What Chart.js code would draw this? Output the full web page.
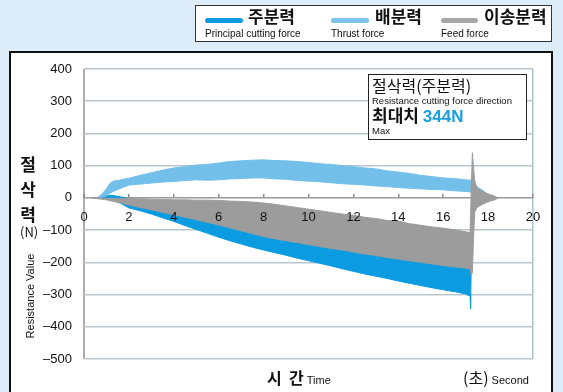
<!DOCTYPE html>
<html>
<head>
<meta charset="utf-8">
<script src="https://cdn.jsdelivr.net/npm/chart.js@4.4.1/dist/chart.umd.min.js"></script>
<style>
  body { margin: 0; width: 563px; height: 392px; overflow: hidden; background: #dcedf9;
         font-family: "Liberation Sans", "Noto Sans CJK KR", sans-serif; color: #111; }
  .abs { position: absolute; white-space: nowrap; }
  #panel { position: absolute; left: 9px; top: 51px; width: 540px; height: 360px;
           border: 2px solid #111; background: #fff; }
  #wrap { position: absolute; left: 0; top: 0; width: 563px; height: 392px; }
  #legend { position: absolute; left: 195px; top: 5px; width: 355px; height: 35px;
            border: 1.5px solid #333; background: #fff; }
  .sw { position: absolute; height: 5px; border-radius: 3px; }
  .kr { font-family: "Noto Sans CJK KR", sans-serif; }
  #note { position: absolute; left: 368px; top: 74px; width: 157px; height: 64px;
          border: 1px solid #222; background: #fff; }
</style>
</head>
<body>
<div id="panel"></div>
<div id="wrap"><canvas id="chart"></canvas></div>

<div id="legend"></div>
<div class="sw abs" style="left:205px;top:18px;width:38px;background:#0a9be0"></div>
<div class="abs kr" style="left:248px;top:5px;font-size:17px;font-weight:bold;line-height:22px">주분력</div>
<div class="abs" style="left:205px;top:28px;font-size:10px;line-height:12px">Principal cutting force</div>
<div class="sw abs" style="left:331px;top:18px;width:38px;background:#7cc4ec"></div>
<div class="abs kr" style="left:375px;top:5px;font-size:17px;font-weight:bold;line-height:22px">배분력</div>
<div class="abs" style="left:331px;top:28px;font-size:10px;line-height:12px">Thrust force</div>
<div class="sw abs" style="left:441px;top:18px;width:37px;background:#a6a6a6"></div>
<div class="abs kr" style="left:484px;top:5px;font-size:17px;font-weight:bold;line-height:22px">이송분력</div>
<div class="abs" style="left:441px;top:28px;font-size:10px;line-height:12px">Feed force</div>

<div id="note"></div>
<div class="abs kr" style="left:372px;top:74px;font-size:16px;line-height:22px">절삭력(주분력)</div>
<div class="abs" style="left:372px;top:95px;font-size:9.5px;line-height:12px">Resistance cutting force direction</div>
<div class="abs kr" style="left:372px;top:104px;font-size:17px;font-weight:bold;line-height:22px">최대치 <span style="color:#1aa0e2;font-family:'Liberation Sans'">344N</span></div>
<div class="abs" style="left:372px;top:125px;font-size:9.5px;line-height:12px">Max</div>

<div class="abs kr" style="left:20px;top:151px;font-size:17px;font-weight:bold;line-height:25px;width:16px;text-align:center;white-space:normal">절 삭 력</div>
<div class="abs kr" style="left:20px;top:223px;font-size:13px;line-height:18px">(N)</div>
<div class="abs" style="left:30px;top:296px;font-size:11px;line-height:12px;transform:translate(-50%,-50%) rotate(-90deg)">Resistance Value</div>

<div class="abs kr" style="left:267px;top:366px;font-size:16px;font-weight:bold;line-height:22px">시&nbsp;&nbsp;간<span style="font-family:'Liberation Sans';font-weight:normal;font-size:11px"> Time</span></div>
<div class="abs kr" style="left:463px;top:366px;font-size:16px;line-height:22px">(초)<span style="font-family:'Liberation Sans';font-size:11px"> Second</span></div>

<script>
// 이송분력 (feed force) - band top / bottom
const feedTime = [0.3, 1, 1.5, 2, 2.5, 3, 3.5, 4, 4.5, 5, 5.5, 6, 6.5, 7, 7.5, 8, 8.5, 9, 9.5, 10, 10.5, 11, 11.5, 12, 12.5, 13, 13.5, 14, 14.5, 15, 15.5, 16, 16.5, 17, 17.2, 17.25, 17.3, 17.35, 17.4, 17.5, 17.7, 17.9, 18.1, 18.3, 18.45];
const feedTop = [0, -1, -2, -2, -3, -4, -5, -6, -6, -7, -7, -8, -10, -11, -13, -16, -20, -25, -30, -35, -40, -45, -50, -54, -60, -64, -70, -72, -80, -85, -90, -94, -99, -105, -108, 30, 140, 95, 55, 30, 22, 15, 10, 5, 0];
const feedBottom = [0, -6, -14, -22, -30, -37, -45, -52, -60, -68, -76, -84, -93, -102, -111, -120, -127, -133, -139, -145, -151, -157, -162, -168, -174, -179, -185, -190, -195, -200, -205, -210, -214, -218, -220, -240, -232, -130, -45, -30, -22, -15, -10, -6, 0];

// 배분력 (thrust force)
const thrustTime = [0.58, 0.8, 1.0, 1.15, 1.3, 1.5, 2, 2.5, 3, 3.5, 4, 4.5, 5, 5.5, 6, 6.5, 7, 7.5, 8, 8.5, 9, 9.5, 10, 10.5, 11, 11.5, 12, 12.5, 13, 13.5, 14, 14.5, 15, 15.5, 16, 16.5, 17, 17.25, 17.4, 17.6, 17.8, 18.0, 18.1];
const thrustTop = [0, 12, 28, 45, 52, 54, 61, 70, 78, 86, 93, 97, 102, 104, 108, 113, 115, 117, 118, 116, 115, 113, 110, 106, 104, 100, 97, 93, 90, 84, 80, 76, 70, 66, 62, 60, 56, 55, 40, 30, 22, 8, 0];
const thrustBottom = [0, 2, 8, 14, 20, 26, 40, 43, 46, 49, 51, 54, 56, 55, 56, 59, 60, 62, 62, 59, 58, 54, 52, 50, 47, 44, 42, 40, 37, 35, 32, 30, 28, 26, 25, 22, 20, 18, 12, 5, 2, -3, 0];

// 주분력 (principal cutting force)
const principalTime = [0.8, 1.0, 1.2, 1.5, 2, 2.5, 3, 3.5, 4, 4.5, 5, 5.5, 6, 6.5, 7, 7.5, 8, 8.5, 9, 9.5, 10, 10.5, 11, 11.5, 12, 12.5, 13, 13.5, 14, 14.5, 15, 15.5, 16, 16.5, 17, 17.2, 17.22, 17.25];
const principalTop = [0, 6, 8, 5, -2, -8, -12, -18, -25, -30, -36, -42, -48, -54, -60, -66, -72, -78, -84, -90, -95, -100, -106, -112, -118, -123, -128, -134, -140, -145, -150, -155, -160, -165, -170, -172, -172, -200];
const principalBottom = [0, -3, -6, -12, -31, -40, -50, -62, -73, -86, -98, -110, -122, -133, -143, -153, -162, -170, -178, -187, -195, -203, -211, -220, -228, -236, -243, -250, -258, -265, -272, -279, -285, -291, -298, -305, -344, -200];

const xTicks = [0, 20, 2];      // min, max, step (초)
const yTicks = [-500, 400, 100]; // min, max, step (N)

function pts(time, vals) {
    return time.map((t, i) => ({ x: t, y: vals[i] }));
}

function band(label, time, top, bottom, color) {
    return [
        { label: label, data: pts(time, top), borderColor: color, backgroundColor: color,
          borderWidth: 1, pointRadius: 0, fill: '+1', tension: 0 },
        { label: label + ' low', data: pts(time, bottom), borderColor: color, backgroundColor: color,
          borderWidth: 1, pointRadius: 0, fill: false, tension: 0 }
    ];
}

const datasets = [].concat(
    band('이송분력', feedTime, feedTop, feedBottom, '#9c9c9c'),
    band('배분력', thrustTime, thrustTop, thrustBottom, '#72bfea'),
    band('주분력', principalTime, principalTop, principalBottom, '#0a9be0')
);

new Chart(document.getElementById('chart'), {
    type: 'line',
    data: { datasets: datasets },
    options: {
        responsive: true,
        maintainAspectRatio: false,
        animation: false,
        layout: { padding: { left: 0, top: 69, right: 30, bottom: 33 } },
        plugins: { legend: { display: false }, tooltip: { enabled: false } },
        scales: {
            x: {
                type: 'linear',
                position: { y: 0 },
                min: xTicks[0], max: xTicks[1],
                ticks: { stepSize: xTicks[2], padding: 16, color: '#111', z: 1,
                         font: { family: 'Liberation Sans', size: 13 } },
                grid: {
                    drawTicks: true, tickLength: -4, tickColor: '#8a8a8a',
                    color: ctx => ctx.tick.value === 0 ? '#adadad' : (ctx.tick.value === 20 ? '#a9c0cf' : 'rgba(0,0,0,0)'),
                    lineWidth: ctx => ctx.tick.value === 0 ? 2 : 1.5
                },
                border: { display: false }
            },
            y: {
                min: yTicks[0], max: yTicks[1],
                afterFit: scale => { scale.width = 84; },
                ticks: { stepSize: yTicks[2], padding: 12, color: '#111',
                         font: { family: 'Liberation Sans', size: 13 },
                         callback: v => v < 0 ? '–' + Math.abs(v) : String(v) },
                grid: {
                    drawTicks: false,
                    color: ctx => ctx.tick.value === 0 ? '#9a9a9a' : '#b9c6ce',
                    lineWidth: 1.5
                },
                border: { display: false }
            }
        }
    }
});
</script>
</body>
</html>
